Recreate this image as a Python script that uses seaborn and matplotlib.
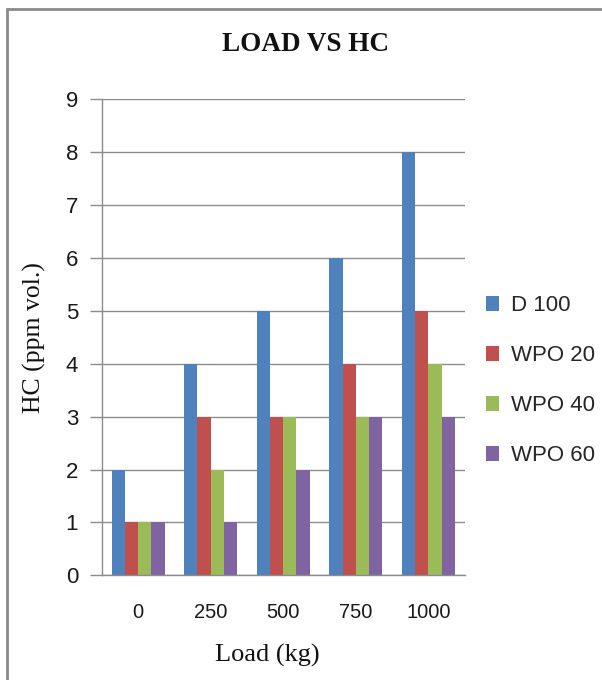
import matplotlib
matplotlib.use("Agg")
import matplotlib.pyplot as plt
from matplotlib.patches import Rectangle
import seaborn as sns
import pandas as pd

# HC emissions by load for each fuel blend
loads = ["0", "250", "500", "750", "1000"]
d100 = [2, 4, 5, 6, 8]
wpo20 = [1, 3, 3, 4, 5]
wpo40 = [1, 2, 3, 3, 4]
wpo60 = [1, 1, 2, 3, 3]
series_names = ["D 100", "WPO 20", "WPO 40", "WPO 60"]
colors = ["#4F81BD", "#C0504D", "#9BBB59", "#8064A2"]

rows = []
for name, vals in zip(series_names, [d100, wpo20, wpo40, wpo60]):
    for ld, v in zip(loads, vals):
        rows.append({"Load": ld, "HC": v, "Fuel": name})
df = pd.DataFrame(rows)

sns.set_theme(style="white")
plt.rcParams["font.family"] = ["Liberation Sans", "DejaVu Sans"]

fig = plt.figure(figsize=(6.02, 6.80), dpi=100)
ax = fig.add_axes([0.169, 0.154, 0.603, 0.700])

sns.barplot(data=df, x="Load", y="HC", hue="Fuel", order=loads,
            hue_order=series_names, palette=colors, width=0.73,
            saturation=1, edgecolor="none", linewidth=0, ax=ax, legend=False)

grid_c = "#8C8C8C"
ax.set_ylim(0, 9)
ax.set_yticks(range(0, 10))
ax.yaxis.grid(True, color=grid_c, linewidth=1.0)
ax.set_axisbelow(True)
for s in ["top", "right"]:
    ax.spines[s].set_visible(False)
ax.spines["left"].set_color(grid_c)
ax.spines["bottom"].set_color(grid_c)
ax.spines["left"].set_linewidth(1.0)
ax.spines["bottom"].set_linewidth(1.0)
ax.tick_params(axis="y", length=9, width=1.0, color=grid_c, labelsize=16,
               labelcolor="#1a1a1a", left=True, pad=8)
ax.tick_params(axis="x", length=0, labelsize=14.5, labelcolor="#1a1a1a", pad=20)

serif = ["Liberation Serif", "DejaVu Serif"]
ax.set_xlabel("Load (kg)", family=serif, fontsize=19, color="#111111")
ax.xaxis.set_label_coords(0.457, -0.145)
ax.set_ylabel("HC (ppm vol.)", family=serif, fontsize=18.5, color="#111111")
ax.yaxis.set_label_coords(-0.154, 0.5)
fig.text(0.507, 0.934, "LOAD VS HC", ha="center", va="center",
         family=serif, fontweight="bold", fontsize=19.5, color="#111111")

handles = [Rectangle((0, 0), 1, 1, facecolor=c, edgecolor="none") for c in colors]
fig.legend(handles, series_names, loc="center left",
           bbox_to_anchor=(0.792, 0.440), frameon=False, fontsize=16,
           handlelength=0.62, handleheight=0.62, handletextpad=0.5,
           labelspacing=1.3, borderaxespad=0)

# outer chart frame
fig.add_artist(Rectangle((7 / 602, -0.05), 1.0, 1 - 9 / 680 + 0.05,
                         transform=fig.transFigure, fill=False,
                         edgecolor="#8A8A8A", linewidth=2.0))

fig.savefig("out.png", dpi=100)
